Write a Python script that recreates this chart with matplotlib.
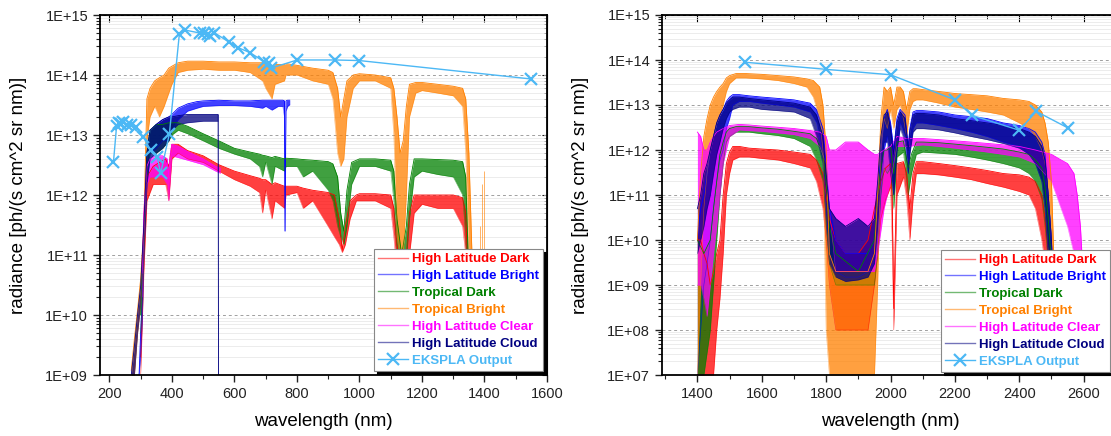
import numpy as np
import matplotlib
matplotlib.use('Agg')
import matplotlib.pyplot as plt
from matplotlib.lines import Line2D
from matplotlib.ticker import LogLocator, FuncFormatter, MultipleLocator, NullFormatter

plt.rcParams['font.family'] = ['Liberation Sans', 'DejaVu Sans']

#%% data, left panel (UV-VIS-NIR)
hld1_wl = [300, 310, 320, 340, 360, 380, 390, 400, 420, 450, 500, 550, 600, 650, 680, 690, 700, 720, 730, 760,
           765, 800, 820, 850, 900, 920, 935, 945, 955, 970, 990, 1000, 1050, 1100, 1110, 1120, 1135, 1150, 1160, 1175,
           1200, 1250, 1300, 1330, 1340, 1345, 1352]
hld1_hi = [2e9, 1e11, 2e12, 3e12, 3.5e12, 4e12, 3e12, 7e12, 7e12, 5.5e12, 4.5e12, 3.2e12, 2.5e12, 2.1e12, 1.9e12, 1.8e12, 1.8e12, 1.5e12, 1.6e12, 1.4e12,
           1.4e12, 1.4e12, 1.3e12, 1.2e12, 1.1e12, 1e12, 4e11, 1.2e11, 3e11, 8e11, 1e12, 1.05e12, 1.05e12, 1e12, 6e11, 1.5e11, 5e10, 1e11, 5e11, 1e12,
           1e12, 1e12, 1e12, 9e11, 5e11, 1e11, 1e10]
hld1_lo = [1e9, 5e10, 8e11, 1.5e12, 1.5e12, 1.5e12, 8e11, 4e12, 5e12, 4e12, 3.5e12, 2.5e12, 1.8e12, 1.4e12, 1.1e12, 5e11, 1.2e12, 4e11, 8e11, 6e11,
           1e12, 1.1e12, 6e11, 8e11, 3e11, 2e11, 1.5e11, 1.1e11, 1.5e11, 4e11, 8e11, 8e11, 8e11, 6e11, 2e11, 5e10, 1e10, 3e10, 1e11, 5e11,
           7e11, 6e11, 6e11, 3e11, 1e11, 1e10, 1e9]

hlb1_wl = [295, 300, 305, 310, 320, 330, 350, 370, 390, 400, 420, 450, 480, 500, 550, 600, 650, 690, 700, 720,
           740, 755, 760, 762, 765, 770, 777]
hlb1_hi = [1e9, 5e9, 2e10, 2e11, 5e12, 1.2e13, 1.5e13, 1.8e13, 2e13, 2.2e13, 2.8e13, 3.3e13, 3.6e13, 3.7e13, 3.8e13, 3.7e13, 3.7e13, 3.8e13, 3.8e13, 3.8e13,
           3.8e13, 3.8e13, 3.7e13, 2.5e11, 3.7e13, 3.8e13, 3.8e13]
hlb1_lo = [1e9, 2e9, 8e9, 8e10, 1.5e12, 5e12, 6e12, 8e12, 8e12, 1.2e13, 1.8e13, 2.5e13, 2.8e13, 3e13, 3.1e13, 3.1e13, 3e13, 2.8e13, 3e13, 2.6e13,
           3e13, 3e13, 2e13, 2.5e11, 2.5e13, 3e13, 3.2e13]

td1_wl = [300, 305, 310, 320, 330, 350, 370, 390, 400, 420, 450, 500, 550, 600, 650, 680, 690, 700, 720, 730,
          760, 765, 800, 820, 850, 900, 915, 930, 940, 950, 960, 975, 1000, 1050, 1100, 1110, 1120, 1135, 1150, 1160,
          1175, 1200, 1250, 1300, 1330, 1340, 1348, 1355]
td1_hi = [1e10, 5e10, 3e11, 5e12, 1.2e13, 1.5e13, 1.5e13, 1.6e13, 1.6e13, 1.6e13, 1.4e13, 1.05e13, 8e12, 6e12, 5.2e12, 4.8e12, 4.6e12, 4.5e12, 4.2e12, 4.4e12,
          4e12, 4.1e12, 4e12, 3.9e12, 3.8e12, 3.6e12, 3.3e12, 2e12, 5e11, 2.5e11, 1.2e12, 3.5e12, 4e12, 4e12, 3.8e12, 2.5e12, 4e11, 1e11, 3e11, 1.5e12,
          4e12, 4e12, 3.9e12, 3.8e12, 3.6e12, 2e12, 1e11, 1e9]
td1_lo = [5e9, 2e10, 1e11, 2e12, 5e12, 5e12, 6e12, 8e12, 1e13, 1.2e13, 1.05e13, 8e12, 6e12, 4.8e12, 4e12, 3e12, 2e12, 3.5e12, 1.5e12, 3e12,
          2.5e12, 3e12, 3e12, 2e12, 2.5e12, 1.2e12, 8e11, 3e11, 2e11, 1.5e11, 3e11, 1.5e12, 3e12, 3e12, 2.5e12, 8e11, 1e11, 5e10, 8e10, 4e11,
          2e12, 2.5e12, 2.2e12, 2e12, 1e12, 2e11, 1e10, 1e9]

tb1_wl = [270, 280, 290, 300, 310, 320, 330, 345, 360, 375, 390, 400, 420, 450, 500, 550, 600, 650, 690, 700,
          720, 730, 760, 765, 800, 850, 900, 915, 930, 940, 950, 960, 980, 1000, 1050, 1100, 1110, 1120, 1130, 1140,
          1150, 1160, 1180, 1200, 1250, 1300, 1330, 1340, 1350, 1360, 1365]
tb1_hi = [1.2e9, 4e9, 1.2e10, 4e10, 3e11, 4e13, 6e13, 8e13, 9e13, 1e14, 1.3e14, 1.4e14, 1.6e14, 1.7e14, 1.7e14, 1.65e14, 1.65e14, 1.6e14, 1.6e14, 1.6e14,
          1.4e14, 1.5e14, 1.5e14, 1.55e14, 1.45e14, 1.3e14, 1.2e14, 1.1e14, 6e13, 2e13, 4e13, 8e13, 1e14, 1.05e14, 1e14, 9e13, 6e13, 2e13, 5e12, 8e12,
          3e13, 7e13, 7.5e13, 7.5e13, 7e13, 6.5e13, 6e13, 4e13, 5e12, 1e11, 1e9]
tb1_lo = [1e9, 1e9, 5e9, 1.5e10, 1e11, 8e12, 2e13, 3e13, 2e13, 3e13, 5e13, 7e13, 1.1e14, 1.2e14, 1.25e14, 1.2e14, 1.2e14, 1.1e14, 8e13, 6e13,
          4e13, 7e13, 8e13, 1e14, 1e14, 8e13, 7e13, 4e13, 5e12, 3e12, 4e12, 2e13, 6e13, 8e13, 8e13, 6e13, 1e13, 2e11, 1e11, 1e11,
          1e12, 2e13, 5e13, 5.5e13, 5e13, 4.5e13, 3e13, 5e12, 1e11, 1e9, 1e9]
tb1_spike_wl = [1385, 1392, 1398]
tb1_spike_hi = [3e11, 1.5e12, 2.5e12]

hlc1_wl = [305, 310, 320, 330, 350, 370, 385, 390, 395, 400, 420, 450, 500, 540, 555]
hlc1_hi = [5e10, 5e11, 3e12, 4e12, 4.5e12, 4.5e12, 4e12, 2e12, 5e12, 7e12, 6.5e12, 5.3e12, 4e12, 3e12, 2.8e12]
hlc1_lo = [2e10, 2e11, 1.5e12, 2e12, 2e12, 2e12, 1.5e12, 8e11, 2e12, 4.5e12, 4.2e12, 3.8e12, 3.2e12, 2.5e12, 2.3e12]

hlcl1_wl = [270, 280, 290, 300, 310, 320, 330, 350, 370, 390, 400, 420, 450, 500, 540, 548, 549, 551]
hlcl1_hi = [1e9, 3e9, 1e10, 3e10, 3e11, 5e12, 1.2e13, 1.5e13, 1.8e13, 2e13, 2e13, 2.1e13, 2.2e13, 2.2e13, 2.2e13, 2.2e13, 1e9, 1e9]
hlcl1_lo = [1e9, 1e9, 5e9, 1.5e10, 1e11, 1.5e12, 4e12, 5e12, 6e12, 8e12, 1.2e13, 1.5e13, 1.6e13, 1.7e13, 1.7e13, 1.7e13, 1e9, 1e9]

eks1_wl = [213, 223, 230, 237, 245, 255, 270, 285, 308, 332, 353, 364, 392, 424, 443, 490, 503, 516, 522, 535,
           584, 612, 650, 695, 703, 712, 716, 801, 922, 1000, 1548]
eks1_val = [3.5e12, 1.4e13, 1.6e13, 1.55e13, 1.65e13, 1.45e13, 1.45e13, 1.35e13, 9.4e12, 5.6e12, 4.3e12, 2.3e12, 1.05e13, 4.9e14, 5.6e14, 5e14, 5.1e14, 4.9e14, 4.4e14, 5.1e14,
            3.5e14, 2.85e14, 2.36e14, 1.66e14, 1.47e14, 1.6e14, 1.3e14, 1.78e14, 1.78e14, 1.74e14, 8.6e13]

#%% data, right panel (SWIR)
hld2_wl = [1400, 1410, 1420, 1430, 1440, 1450, 1460, 1470, 1480, 1490, 1500, 1510, 1530, 1560, 1600, 1650, 1700, 1750, 1770, 1790,
           1800, 1810, 1830, 1860, 1900, 1930, 1950, 1960, 1970, 1985, 2000, 2005, 2010, 2020, 2040, 2050, 2060, 2070, 2080, 2100,
           2150, 2200, 2250, 2300, 2350, 2400, 2430, 2450, 2470, 2480, 2490, 2500]
hld2_hi = [1e10, 1e10, 5e9, 3e9, 1e9, 2e9, 5e9, 1e10, 1e11, 5e11, 9e11, 1.2e12, 1.2e12, 1.1e12, 1.05e12, 1e12, 9e11, 8e11, 6e11, 3e11,
           1e11, 3e10, 1e10, 5e9, 5e9, 1e10, 5e10, 1e11, 2e11, 4e11, 5e11, 1e11, 3e8, 5e11, 5.5e11, 3e11, 5e10, 3e11, 5.5e11, 5.5e11,
           5e11, 4.5e11, 4e11, 3.5e11, 3e11, 2.8e11, 2.5e11, 2e11, 1e11, 3e10, 5e9, 1e8]
hld2_lo = [1e7, 1e7, 1e7, 1e7, 1e7, 1e7, 1e8, 5e8, 5e9, 1e11, 3e11, 6e11, 7e11, 7e11, 6.5e11, 6e11, 5e11, 4e11, 2e11, 5e10,
           1e10, 1e9, 1e8, 1e8, 1e8, 1e8, 1e9, 5e9, 3e10, 8e10, 1.5e11, 1e10, 1e8, 1e11, 2.5e11, 8e10, 1e10, 8e10, 3e11, 3e11,
           2.8e11, 2.5e11, 2.2e11, 1.8e11, 1.5e11, 1.2e11, 1e11, 5e10, 1e10, 3e9, 5e8, 1e7]

hlb2_wl = [1400, 1410, 1420, 1430, 1440, 1450, 1460, 1470, 1480, 1490, 1500, 1510, 1530, 1560, 1600, 1650, 1700, 1750, 1770, 1790,
           1800, 1810, 1830, 1860, 1900, 1930, 1950, 1960, 1970, 1980, 1990, 2000, 2010, 2020, 2030, 2045, 2055, 2060, 2070, 2080,
           2100, 2150, 2200, 2250, 2300, 2350, 2400, 2430, 2450, 2470, 2480, 2490, 2500, 2510]
hlb2_hi = [1e10, 5e10, 1e11, 3e11, 1e12, 2e12, 4e12, 6e12, 8e12, 1.2e13, 1.5e13, 1.7e13, 1.7e13, 1.6e13, 1.5e13, 1.4e13, 1.3e13, 1.1e13, 8e12, 3e12,
           5e11, 5e10, 1e10, 5e9, 5e9, 5e9, 1e10, 1e11, 1e12, 5e12, 8e12, 4e12, 1e12, 5e12, 8e12, 6e12, 1.2e12, 3e12, 7e12, 7.5e12,
           7.5e12, 7e12, 6e12, 5.5e12, 5e12, 4e12, 3.5e12, 3e12, 2.5e12, 1.5e12, 8e11, 1e11, 1e10, 1e8]
hlb2_lo = [1e7, 1e8, 1e9, 3e9, 1e10, 5e10, 2e11, 6e11, 1e12, 3e12, 5e12, 1e13, 1.2e13, 1.2e13, 1.1e13, 1e13, 9e12, 7e12, 4e12, 8e11,
           5e10, 5e9, 2e9, 1.5e9, 1.5e9, 2e9, 3e9, 1e10, 1e11, 1e12, 2e12, 5e11, 1e11, 1e12, 4e12, 2e12, 3e11, 1e12, 3e12, 4e12,
           4e12, 3.5e12, 3e12, 2.5e12, 2e12, 1.5e12, 1.2e12, 8e11, 5e11, 2e11, 5e10, 5e9, 5e8, 1e7]

td2_wl = [1400, 1420, 1440, 1450, 1460, 1470, 1480, 1490, 1500, 1520, 1560, 1600, 1650, 1700, 1750, 1770, 1790, 1800, 1810, 1830,
          1900, 1950, 1960, 1970, 1980, 1990, 2000, 2010, 2020, 2040, 2055, 2065, 2080, 2100, 2150, 2200, 2250, 2300, 2350, 2400,
          2430, 2450, 2470, 2480, 2490, 2500, 2510]
td2_hi = [1e10, 5e9, 1e10, 5e10, 2e11, 8e11, 1.5e12, 2.5e12, 3e12, 3.3e12, 3.3e12, 3.1e12, 2.9e12, 2.6e12, 2.3e12, 1.8e12, 8e11, 2e11, 2e10, 5e9,
          2e9, 1e10, 1e11, 4e11, 1e12, 1e12, 1.2e12, 3e11, 1.5e12, 1.6e12, 4e11, 8e11, 1.5e12, 1.5e12, 1.45e12, 1.35e12, 1.25e12, 1.15e12, 1.05e12, 9e11,
          8e11, 6e11, 4e11, 1.5e11, 3e10, 3e9, 1e8]
td2_lo = [1e7, 1e7, 1e8, 1e9, 1e10, 1e11, 5e11, 1.5e12, 2e12, 2.5e12, 2.5e12, 2.3e12, 2.1e12, 1.8e12, 1.2e12, 6e11, 2e11, 3e10, 3e9, 1e9,
          1e9, 1e9, 5e9, 1e11, 4e11, 3e11, 4e11, 5e10, 7e11, 9e11, 1e11, 3e11, 8e11, 9e11, 8.5e11, 8e11, 7e11, 6e11, 5e11, 4e11,
          3e11, 2e11, 8e10, 2e10, 3e9, 3e8, 1e7]

tb2_wl = [1400, 1410, 1420, 1430, 1440, 1450, 1460, 1470, 1480, 1490, 1500, 1520, 1550, 1600, 1650, 1700, 1740, 1760, 1780, 1790,
          1800, 1810, 1830, 1860, 1900, 1930, 1950, 1960, 1970, 1980, 1990, 2000, 2010, 2020, 2030, 2040, 2050, 2060, 2070, 2080,
          2100, 2150, 2200, 2250, 2300, 2350, 2400, 2430, 2450, 2470, 2480, 2490, 2500, 2510]
tb2_hi = [1e10, 3e11, 2e12, 5e12, 1e13, 1.5e13, 2e13, 2.5e13, 3e13, 4e13, 4.5e13, 5e13, 5e13, 4.8e13, 4.5e13, 4.2e13, 3.8e13, 3.5e13, 2.5e13, 1e13,
          1e12, 5e9, 2e9, 2e9, 2e9, 2e9, 5e9, 1e11, 5e12, 2.5e13, 2e13, 2.5e13, 1e13, 2.5e13, 2.5e13, 2e13, 8e12, 2e13, 2.3e13, 2.3e13,
          2.2e13, 2e13, 1.8e13, 1.7e13, 1.6e13, 1.4e13, 1.3e13, 1.2e13, 1e13, 7e12, 4e12, 1.5e12, 2e11, 1e9]
tb2_lo = [1e7, 1e9, 5e10, 3e11, 1e12, 2e12, 4e12, 6e12, 1e13, 2e13, 3e13, 4e13, 4e13, 3.8e13, 3.5e13, 3e13, 2.5e13, 1.5e13, 5e12, 1e12,
          1e8, 1e7, 1e7, 1e7, 1e7, 1e7, 1e7, 1e9, 1e12, 5e12, 3e12, 8e12, 3e12, 8e12, 1e13, 5e12, 2e12, 8e12, 1.2e13, 1.3e13,
          1.3e13, 1.1e13, 9e12, 8e12, 7e12, 6e12, 4e12, 3e12, 2e12, 1e12, 5e11, 1e11, 1e10, 1e7]

hlc2_wl = [1400, 1410, 1420, 1430, 1440, 1450, 1460, 1480, 1500, 1530, 1560, 1600, 1650, 1700, 1750, 1780, 1800, 1810, 1830, 1860,
           1900, 1930, 1950, 1960, 1980, 2000, 2020, 2050, 2100, 2150, 2200, 2250, 2300, 2350, 2400, 2450, 2500, 2530, 2550, 2570,
           2580, 2590, 2600]
hlc2_hi = [2.5e12, 2e12, 1e12, 1e12, 1.5e12, 2e12, 2.5e12, 3e12, 3.5e12, 3.7e12, 3.6e12, 3.4e12, 3.2e12, 3e12, 2.7e12, 2.5e12, 2e12, 1e12, 1e12, 1.5e12,
           1.5e12, 1e12, 8e11, 8e11, 1e12, 1.2e12, 2e12, 1.8e12, 1.8e12, 1.7e12, 1.6e12, 1.5e12, 1.4e12, 1.3e12, 1.2e12, 1e12, 8e11, 6e11, 5e11, 3e11,
           1e11, 2e10, 1e9]
hlc2_lo = [1e9, 1e9, 5e8, 2e8, 1e9, 5e9, 2e10, 5e11, 2e12, 2.8e12, 2.7e12, 2.6e12, 2.4e12, 2.2e12, 1.8e12, 1.2e12, 5e11, 5e10, 2e9, 2e9,
           2e9, 2e9, 2e9, 5e9, 5e10, 2e11, 1.2e12, 1.2e12, 1.3e12, 1.2e12, 1.1e12, 1e12, 9e11, 8e11, 7e11, 5e11, 2e11, 5e10, 2e10, 5e9,
           2e9, 1e9, 1e8]

hlcl2_wl = hlb2_wl
hlcl2_hi = [5e10, 1e11, 3e11, 5e11, 1e12, 2e12, 4e12, 6e12, 8e12, 1.1e13, 1.3e13, 1.5e13, 1.5e13, 1.4e13, 1.3e13, 1.2e13, 1.1e13, 9e12, 6e12, 2e12,
            3e11, 5e10, 3e10, 2e10, 3e10, 2e10, 3e10, 2e11, 2e12, 6e12, 7e12, 3e12, 8e11, 4e12, 7e12, 5e12, 1e12, 2.5e12, 6e12, 6.5e12,
            6.5e12, 6e12, 5e12, 4.5e12, 4e12, 3.5e12, 3e12, 2.5e12, 2e12, 1.2e12, 6e11, 1e11, 1e10, 1e8]
hlcl2_lo = [5e9, 1e10, 2e10, 5e10, 1e11, 3e11, 8e11, 1.5e12, 3e12, 5e12, 7e12, 8e12, 9e12, 9e12, 8e12, 7.5e12, 7e12, 5e12, 2e12, 5e11,
            2e10, 3e9, 1.5e9, 1.2e9, 1.3e9, 1.5e9, 3e9, 2e10, 3e11, 1.5e12, 1.5e12, 3e11, 1e11, 1e12, 3e12, 1.5e12, 3e11, 8e11, 2.5e12, 3e12,
            3e12, 2.8e12, 2.4e12, 2e12, 1.7e12, 1.4e12, 1.1e12, 8e11, 5e11, 2e11, 5e10, 5e9, 5e8, 1e7]

eks2_wl = [1549, 1800, 2000, 2200, 2253, 2400, 2453, 2551]
eks2_val = [8.9e13, 6.2e13, 4.7e13, 1.3e13, 5.9e12, 2.75e12, 7.2e12, 3.1e12]

names = ['High Latitude Dark', 'High Latitude Bright', 'Tropical Dark', 'Tropical Bright',
         'High Latitude Clear', 'High Latitude Cloud', 'EKSPLA Output']
colors = ['#ff0000', '#0000ff', '#008000', '#ff8000', '#ff00ff', '#000080', '#4cb8f5']


def spectrum(ax, wl, hi, lo, c):
    ax.fill_between(wl, lo, hi, color=c, alpha=0.75, lw=0)
    ax.plot(wl, hi, color=c, lw=0.6)
    ax.plot(wl, lo, color=c, lw=0.4, alpha=0.6)


def style(ax, xlim, ylim, xmaj, xlab_x):
    ax.set_yscale('log')
    ax.set_xlim(*xlim)
    ax.set_ylim(*ylim)
    ax.yaxis.set_major_locator(LogLocator(base=10, numticks=20))
    ax.yaxis.set_minor_locator(LogLocator(base=10, subs=np.arange(2, 10), numticks=20))
    ax.yaxis.set_major_formatter(FuncFormatter(lambda v, p: '1E+%02d' % round(np.log10(v))))
    ax.yaxis.set_minor_formatter(NullFormatter())
    ax.xaxis.set_major_locator(MultipleLocator(xmaj))
    ax.xaxis.set_minor_locator(MultipleLocator(xmaj / 2))
    ax.grid(True, which='major', axis='y', color='#a0a0a0', lw=0.7, ls=(0, (3, 3)))
    ax.grid(True, which='minor', axis='y', color='#e4e4e4', lw=0.5)
    ax.set_axisbelow(True)
    ax.tick_params(which='both', direction='out', labelsize=10.5, colors='#222222')
    ax.tick_params(which='major', length=5, width=1)
    ax.tick_params(which='minor', length=3, width=0.8)
    for s in ax.spines.values():
        s.set_linewidth(1.3)
    top = ax.secondary_xaxis('top')
    top.xaxis.set_major_locator(MultipleLocator(xmaj))
    top.xaxis.set_minor_locator(MultipleLocator(xmaj / 2))
    top.tick_params(which='both', direction='in', labeltop=False)
    top.tick_params(which='major', length=5)
    top.tick_params(which='minor', length=3)
    right = ax.secondary_yaxis('right')
    right.yaxis.set_major_locator(LogLocator(base=10, numticks=20))
    right.yaxis.set_minor_locator(LogLocator(base=10, subs=np.arange(2, 10), numticks=20))
    right.yaxis.set_minor_formatter(NullFormatter())
    right.tick_params(which='both', direction='in', labelright=False)
    ax.set_xlabel('wavelength (nm)', fontsize=13.5)
    ax.set_ylabel('radiance [ph/(s cm^2 sr nm)]', fontsize=13.5)
    ax.xaxis.set_label_coords(xlab_x, -0.105)


def legend(ax, anchor):
    handles = [Line2D([], [], color=c, lw=1, alpha=0.55) for c in colors[:6]]
    handles.append(Line2D([], [], color=colors[6], lw=1, marker='x', ms=8, mew=1.6))
    leg = ax.legend(handles, names, loc='lower left', bbox_to_anchor=anchor,
                    prop={'weight': 'bold', 'size': 9.5}, frameon=True, fancybox=False,
                    shadow={'color': 'black', 'alpha': 1}, handlelength=2.3, labelspacing=0.36,
                    borderpad=0.3, handletextpad=0.3, borderaxespad=0)
    leg.get_frame().set_edgecolor('#888888')
    leg.get_frame().set_linewidth(0.8)
    for t, c in zip(leg.get_texts(), colors):
        t.set_color(c)


fig = plt.figure(figsize=(11.11, 4.36), dpi=100)

ax1 = fig.add_axes([100 / 1111, 61 / 436, 447 / 1111, 360 / 436])
spectrum(ax1, hld1_wl, hld1_hi, hld1_lo, colors[0])
spectrum(ax1, hlb1_wl, hlb1_hi, hlb1_lo, colors[1])
spectrum(ax1, td1_wl, td1_hi, td1_lo, colors[2])
spectrum(ax1, tb1_wl, tb1_hi, tb1_lo, colors[3])
ax1.vlines(tb1_spike_wl, 1e9, tb1_spike_hi, color=colors[3], lw=0.6, alpha=0.7)
spectrum(ax1, hlc1_wl, hlc1_hi, hlc1_lo, colors[4])
spectrum(ax1, hlcl1_wl, hlcl1_hi, hlcl1_lo, colors[5])
ax1.plot(eks1_wl, eks1_val, color=colors[6], lw=1, marker='x', ms=8, mew=1.6)
style(ax1, (170, 1600), (1e9, 1e15), 200, 0.5)
ax1.yaxis.set_label_coords(-0.163, 0.5)
legend(ax1, ((374 - 100) / 447, (375 - 371) / 360))

ax2 = fig.add_axes([662 / 1111, 61 / 436, 486 / 1111, 360 / 436])
spectrum(ax2, hld2_wl, hld2_hi, hld2_lo, colors[0])
spectrum(ax2, hlb2_wl, hlb2_hi, hlb2_lo, colors[1])
spectrum(ax2, td2_wl, td2_hi, td2_lo, colors[2])
spectrum(ax2, tb2_wl, tb2_hi, tb2_lo, colors[3])
spectrum(ax2, hlc2_wl, hlc2_hi, hlc2_lo, colors[4])
spectrum(ax2, hlcl2_wl, hlcl2_hi, hlcl2_lo, colors[5])
ax2.plot(eks2_wl, eks2_val, color=colors[6], lw=1, marker='x', ms=8, mew=1.6)
style(ax2, (1290, 2800), (1e7, 1e15), 200, 0.47)
ax2.yaxis.set_label_coords(-0.150, 0.5)
legend(ax2, ((941 - 662) / 486, (375 - 372) / 360))

fig.savefig('out.png', dpi=100)
